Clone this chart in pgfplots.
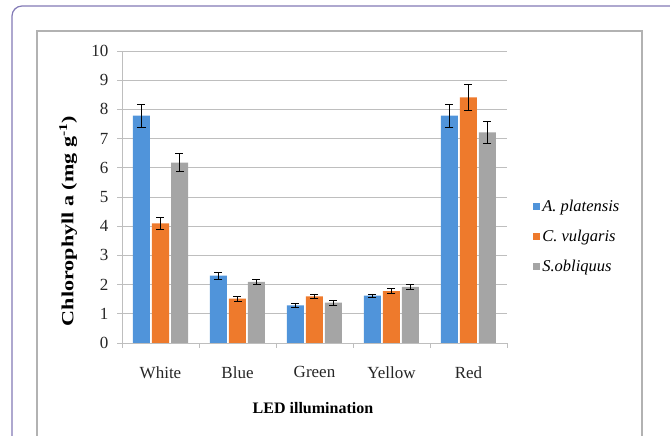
\documentclass[border=0pt]{standalone}
\usepackage{pgfplots}
\pgfplotsset{compat=1.18}
\usepackage{fontspec}
\setmainfont{Liberation Serif}
\definecolor{cblue}{RGB}{80,148,218}
\definecolor{corange}{RGB}{238,122,44}
\definecolor{cgray}{RGB}{165,165,165}
\definecolor{frame}{RGB}{130,122,182}
\definecolor{gridc}{RGB}{190,190,190}
\begin{document}
\begin{tikzpicture}
\useasboundingbox (0pt,0pt) rectangle (670pt,436pt);
\begin{scope}
\clip (0pt,0pt) rectangle (670pt,436pt);
\draw[frame, line width=1.2pt, rounded corners=10pt] (12pt,-20pt) -- (12pt,430pt) -- (690pt,430pt);
\draw[gray!60, line width=1.2pt] (37pt,-20pt) -- (37pt,405pt) -- (642pt,405pt) -- (642pt,-20pt);
\end{scope}
\begin{axis}[
  at={(122pt,93pt)}, anchor=south west,
  scale only axis, width=385pt, height=292pt,
  ybar, bar width=17pt,
  xmin=-0.5, xmax=4.5, ymin=0, ymax=10,
  enlargelimits=false,
  axis x line*=bottom, axis y line*=left,
  axis line style={gridc, line width=0.9pt, -},
  xtick={0,1,2,3,4},
  xticklabels={White,Blue,Green,Yellow,Red},
  major x tick style={draw=none},
  minor xtick={-0.5,0.5,1.5,2.5,3.5,4.5},
  minor x tick style={gridc, line width=0.9pt},
  minor tick length=5pt,
  ytick={0,1,...,10},
  ymajorgrids,
  grid style={gridc, line width=0.9pt},
  major y tick style={gridc, line width=0.9pt},
  major tick length=5pt,
  tick align=outside,
  /pgf/number format/assume math mode=true,
  ticklabel style={font=\fontsize{17}{20}\selectfont, text=black!85},
  xticklabel style={yshift=-15pt},
  yticklabel style={xshift=-5pt},
  xlabel={\textbf{LED illumination}},
  xlabel style={at={(axis description cs:0.496,-0.223)}, anchor=center, font=\fontsize{16}{19}\selectfont},
  ylabel={\scalebox{1.3}[1]{\textbf{Chlorophyll a (mg g\textsuperscript{-1})}}},
  ylabel style={at={(axis description cs:-0.140,0.418)}, anchor=center, rotate=0, font=\fontsize{17}{20}\selectfont},
  legend style={at={(axis description cs:1.06,0.366)}, anchor=west, draw=none, fill=none,
    font=\fontsize{16.5}{19}\selectfont\itshape, row sep=13pt,
    /tikz/every even column/.append style={column sep=2pt}},
  legend cell align=left,
  legend image code/.code={\fill[#1] (0pt,-3.5pt) rectangle (7pt,3.5pt);},
  error bars/y dir=both, error bars/y explicit,
  error bars/error bar style={black, line width=0.8pt},
  error bars/error mark options={rotate=90, black, mark size=4pt, line width=0.8pt},
]
\addplot[fill=cblue, draw=none] coordinates {
  (0,7.79) +- (0,0.39)
  (1,2.31) +- (0,0.12)
  (2,1.29) +- (0,0.07)
  (3,1.62) +- (0,0.06)
  (4,7.79) +- (0,0.39)
};
\addplot[fill=corange, draw=none] coordinates {
  (0,4.10) +- (0,0.20)
  (1,1.52) +- (0,0.08)
  (2,1.60) +- (0,0.08)
  (3,1.78) +- (0,0.09)
  (4,8.41) +- (0,0.43)
};
\addplot[fill=cgray, draw=none] coordinates {
  (0,6.18) +- (0,0.31)
  (1,2.09) +- (0,0.10)
  (2,1.38) +- (0,0.08)
  (3,1.92) +- (0,0.10)
  (4,7.21) +- (0,0.38)
};
\legend{A. platensis, C. vulgaris, S.obliquus}
\end{axis}
\end{tikzpicture}
\end{document}
